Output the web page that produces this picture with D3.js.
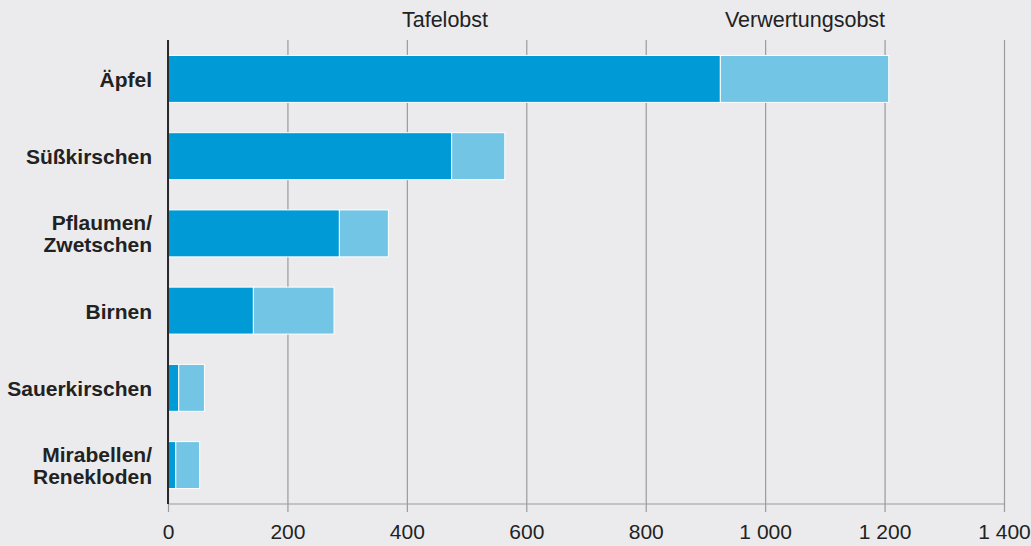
<!DOCTYPE html>
<html><head><meta charset="utf-8">
<script src="https://cdn.jsdelivr.net/npm/d3@7"></script>
<style>
html,body{margin:0;padding:0;background:#ebebed;}
svg{display:block;font-family:"Liberation Sans",Arial,Helvetica,sans-serif;}
</style></head><body>
<svg id="chart" width="1031" height="546"></svg>
<script>
const categories = [["Äpfel"],["Süßkirschen"],["Pflaumen/","Zwetschen"],["Birnen"],["Sauerkirschen"],["Mirabellen/","Renekloden"]];
const tafelobst = [925, 475, 287, 143, 18, 13];
const verwertungsobst = [282, 89, 82, 135, 43, 40];
const seriesNames = ["Tafelobst", "Verwertungsobst"];
const tickValues = [0, 200, 400, 600, 800, 1000, 1200, 1400];
const tickLabels = ["0", "200", "400", "600", "800", "1 000", "1 200", "1 400"];

const W = 1031, H = 546;
const m = {top: 40, right: 27, bottom: 42, left: 168};
const svg = d3.select("#chart");
svg.append("rect").attr("width", W).attr("height", H).attr("fill", "#ebebed");

const x = d3.scaleLinear().domain([0, 1400]).range([m.left, W - m.right]);
const ids = categories.map((c, i) => i);
const y = d3.scaleBand().domain(ids).range([m.top, H - m.bottom]).paddingInner(0.392).paddingOuter(0.2);

// grid + x axis
const xAxis = d3.axisBottom(x).tickValues(tickValues).tickFormat((d, i) => tickLabels[i]).tickSize(0);
const gx = svg.append("g").attr("transform", `translate(0,${H - m.bottom})`);
gx.call(xAxis);
gx.select(".domain").remove();
gx.selectAll(".tick text").attr("y", 0).attr("dy", 0).attr("transform", "translate(0,35)")
  .attr("font-size", 21).attr("fill", "#222").attr("font-family", "Liberation Sans, Arial, sans-serif");
gx.selectAll(".tick").append("line").attr("y1", -(H - m.bottom - m.top)).attr("y2", 8)
  .attr("stroke", "#9a9a9c").attr("stroke-width", 1.2);
svg.append("line").attr("x1", x(0)).attr("x2", x(1400)).attr("y1", H - m.bottom).attr("y2", H - m.bottom)
  .attr("stroke", "#9a9a9c").attr("stroke-width", 1.2);

// bars
const stacked = ids.map(i => ({i, a: tafelobst[i], b: verwertungsobst[i]}));
const g = svg.append("g");
g.selectAll("rect.a").data(stacked).join("rect").attr("class", "a")
  .attr("x", d => x(0)).attr("y", d => y(d.i)).attr("width", d => x(d.a) - x(0)).attr("height", y.bandwidth())
  .attr("fill", "#009bd6").attr("stroke", "#ffffff").attr("stroke-width", 1);
g.selectAll("rect.b").data(stacked).join("rect").attr("class", "b")
  .attr("x", d => x(d.a)).attr("y", d => y(d.i)).attr("width", d => x(d.a + d.b) - x(d.a)).attr("height", y.bandwidth())
  .attr("fill", "#72c5e5").attr("stroke", "#ffffff").attr("stroke-width", 1);

// left axis line
svg.append("line").attr("x1", x(0)).attr("x2", x(0)).attr("y1", m.top).attr("y2", H - m.bottom)
  .attr("stroke", "#2a2a2a").attr("stroke-width", 2);

// category labels
const lab = svg.append("g");
categories.forEach((lines, i) => {
  const cy = y(i) + y.bandwidth() / 2;
  const t = lab.append("text").attr("text-anchor", "end").attr("font-weight", "bold")
    .attr("font-size", 21).attr("fill", "#222");
  if (lines.length === 1) {
    t.append("tspan").attr("x", 152).attr("y", cy + 8).text(lines[0]);
  } else {
    t.append("tspan").attr("x", 152).attr("y", cy - 3).text(lines[0]);
    t.append("tspan").attr("x", 152).attr("y", cy + 19).text(lines[1]);
  }
});

// legend labels
const legX = [445, 805];
seriesNames.forEach((s, i) => {
  svg.append("text").attr("x", legX[i]).attr("y", 27).attr("text-anchor", "middle")
    .attr("font-size", 21.5).attr("fill", "#222").text(s);
});
</script>
</body></html>
